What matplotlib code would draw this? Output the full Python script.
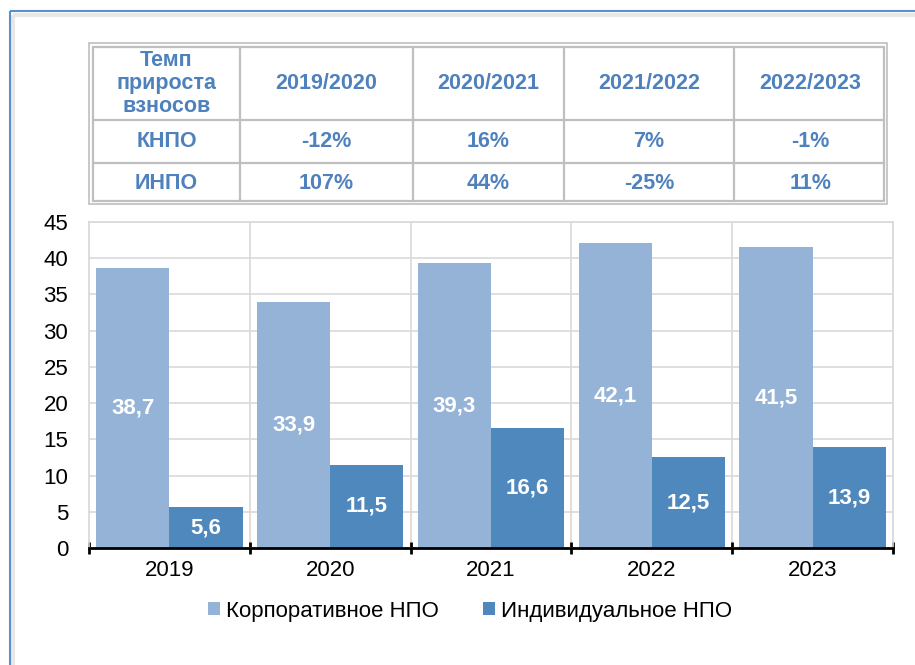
import matplotlib.pyplot as plt
from matplotlib.patches import Rectangle
from matplotlib.lines import Line2D
import numpy as np

plt.rcParams['font.family'] = ['Liberation Sans', 'DejaVu Sans']

years = ["2019", "2020", "2021", "2022", "2023"]
corp = [38.7, 33.9, 39.3, 42.1, 41.5]
indiv = [5.6, 11.5, 16.6, 12.5, 13.9]
series_names = ["Корпоративное НПО", "Индивидуальное НПО"]

table_header = ["Темп\nприроста\nвзносов", "2019/2020", "2020/2021", "2021/2022", "2022/2023"]
table_rows = [
    ["КНПО", "-12%", "16%", "7%", "-1%"],
    ["ИНПО", "107%", "44%", "-25%", "11%"],
]

c_corp = "#95B3D7"
c_ind = "#4F88BD"
c_txt = "#4F81BD"
c_grid = "#D9D9D9"
c_tab = "#BFBFBF"

W, H = 915, 665
fig = plt.figure(figsize=(W / 100, H / 100), dpi=100)

# overlay in pixel coords for frame + table
ov = fig.add_axes([0, 0, 1, 1], zorder=0)
ov.set_xlim(0, W)
ov.set_ylim(H, 0)
ov.axis("off")

# outer frame (cropped on right/bottom)
ov.add_patch(Rectangle((13, 15), 1000, 1000, facecolor="none", edgecolor="#E8E8E8", lw=3))
ov.add_patch(Rectangle((9.5, 11), 1000, 1000, facecolor="none", edgecolor="#5B8FCF", lw=1.5))

# table
col_edges = [89, 240, 413, 564, 734, 887]
row_edges = [43, 120, 163, 204]
ov.add_patch(Rectangle((89, 43), 887 - 89, 204 - 43, facecolor="none", edgecolor=c_tab, lw=1.2))
ov.add_patch(Rectangle((93, 46.5), 884 - 93, 201 - 46.5, facecolor="none", edgecolor=c_tab, lw=1.6))
for xe in col_edges[1:-1]:
    ov.add_line(Line2D([xe, xe], [46.5, 201], color=c_tab, lw=1.6))
for ye in row_edges[1:-1]:
    ov.add_line(Line2D([93, 884], [ye, ye], color=c_tab, lw=1.6))

all_rows = [table_header] + table_rows
for r, row in enumerate(all_rows):
    yc = (row_edges[r] + row_edges[r + 1]) / 2 + (2 if r == 0 else 0)
    for c, txt in enumerate(row):
        xc = (col_edges[c] + col_edges[c + 1]) / 2 + (2 if c == 0 else 0)
        ov.text(xc, yc, txt, ha="center", va="center", color=c_txt,
                fontsize=15.5, fontweight="bold", linespacing=1.12)

# bar chart
ax = fig.add_axes([89 / W, 1 - 548 / H, (893 - 89) / W, (548 - 222) / H], zorder=1)
ax.patch.set_alpha(0)
x = np.arange(len(years))
w = 0.455
b1 = ax.bar(x - w / 2, corp, w, color=c_corp, label=series_names[0], zorder=2)
b2 = ax.bar(x + w / 2, indiv, w, color=c_ind, label=series_names[1], zorder=2)

for bars, vals in ((b1, corp), (b2, indiv)):
    for b, v in zip(bars, vals):
        ax.text(b.get_x() + b.get_width() / 2, v / 2, f"{v:.1f}".replace(".", ","),
                ha="center", va="center", color="white", fontsize=16, fontweight="bold", zorder=3)

ax.set_xlim(-0.5, len(years) - 0.5)
ax.set_ylim(0, 45)
ax.set_yticks(np.arange(0, 46, 5))
ax.set_xticks(x)
ax.set_xticklabels(years)
ax.set_xticks(np.arange(-0.5, len(years)), minor=True)
ax.tick_params(axis="x", which="major", length=0, pad=9, labelsize=16)
ax.tick_params(axis="x", which="minor", length=9, width=2, direction="inout", color="black")
ax.tick_params(axis="y", length=0, pad=15, labelsize=16)
ax.grid(axis="y", color=c_grid, lw=1.2, zorder=0)
ax.grid(axis="x", which="minor", color=c_grid, lw=1.2, zorder=0)
for s in ("left", "top", "right"):
    ax.spines[s].set_color(c_grid)
    ax.spines[s].set_linewidth(1.2)
ax.spines["bottom"].set_color("black")
ax.spines["bottom"].set_linewidth(2)
ax.spines["bottom"].set_zorder(4)

fig.legend(handles=[b1, b2], loc="center", bbox_to_anchor=(470 / W, 1 - 611 / H), ncol=2,
           frameon=False, fontsize=16, handlelength=0.55, handleheight=0.55,
           handletextpad=0.25, columnspacing=2.0)

fig.savefig("out.png", dpi=100)
